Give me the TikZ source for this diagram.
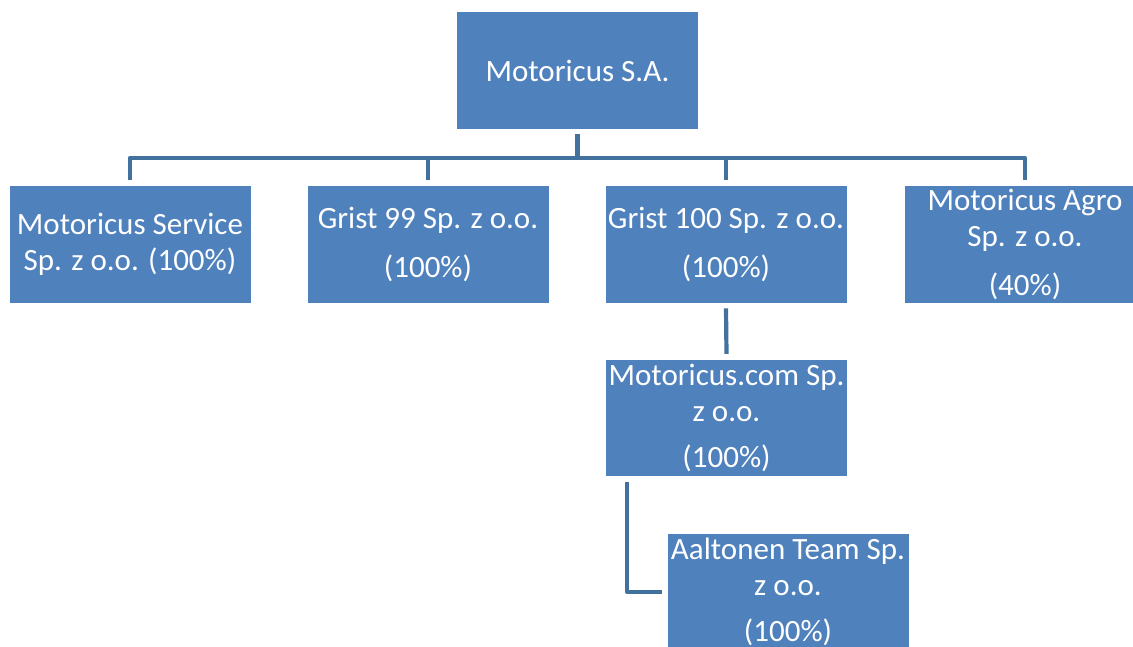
\documentclass[tikz,border=0pt]{standalone}
\usepackage{fontspec}
\setmainfont{Carlito}
\definecolor{boxfill}{HTML}{4F81BD}
\definecolor{linecol}{HTML}{41719C}
\begin{document}
\begin{tikzpicture}[x=1pt,y=-1pt,
  orgbox/.style={draw=white, line width=0.8pt, fill=boxfill, text=white,
    minimum width=242pt, minimum height=117.5pt, inner sep=0pt, align=center,
    font=\fontsize{31}{36}\selectfont},
  conn/.style={draw=linecol, line width=4.2pt, line join=round}]
\useasboundingbox (0,0) rectangle (1133,646);
\fill[white] (0,0) rectangle (1133,646);
\node[orgbox] (top) at (577.5,70.5) {Motoricus S.A.};
\node[orgbox] (b1) at (130,244.3) {Motoricus\ Service\\Sp. z o.o. (100\%)};
\node[orgbox] (b2) at (428,244.3) {Grist 99 Sp. z o.o.\\[13pt](100\%)};
\node[orgbox] (b3) at (726,244.3) {Grist 100 Sp. z o.o.\\[13pt](100\%)};
\node[orgbox] (b4) at (1025,244.3) {Motoricus\ Agro\\Sp. z o.o.\\[13pt](40\%)};
\node[orgbox] (mid) at (726.5,418) {Motoricus.com\ Sp.\\z o.o.\\[10pt](100\%)};
\node[orgbox] (bot) at (788,592) {Aaltonen Team Sp.\\z o.o.\\[10pt](100\%)};
\coordinate (bar) at (577,158);
\draw[conn] ([yshift=-4.5pt]top.south) -- (top.south |- bar);
\draw[conn] ([yshift=5pt]b1.north) -- (b1.north |- bar) -- (b4.north |- bar) -- ([yshift=5pt]b4.north);
\draw[conn] ([yshift=5pt]b2.north) -- (b2.north |- bar);
\draw[conn] ([yshift=5pt]b3.north) -- (b3.north |- bar);
\draw[conn] ([yshift=-5pt]b3.south) -- ([yshift=5pt]mid.north);
\draw[conn] ([xshift=22pt,yshift=-5pt]mid.south west) |- ([xshift=-5pt]bot.west);
\end{tikzpicture}
\end{document}
